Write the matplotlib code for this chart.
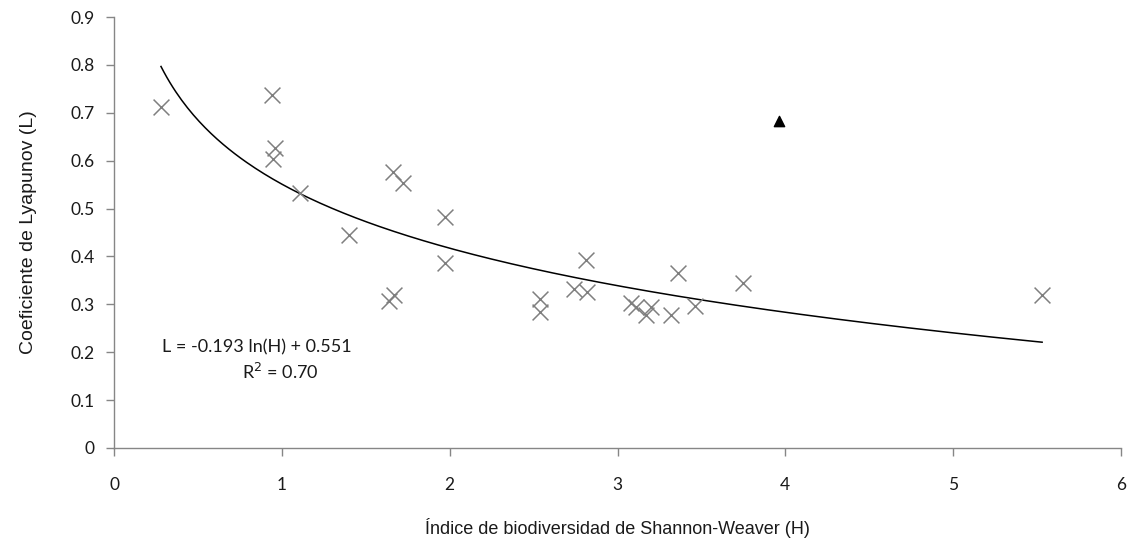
import numpy as np
import matplotlib
matplotlib.use('Agg')
import matplotlib.pyplot as plt

matplotlib.rcParams['font.family'] = ['Liberation Sans', 'DejaVu Sans']

# datos (Shannon-Weaver H, Lyapunov L)
h_vals = [0.28, 0.94, 0.96, 0.95, 1.11, 1.66, 1.72, 1.40, 1.97, 1.97, 1.64, 1.67,
          2.81, 2.54, 2.54, 2.74, 2.82, 3.08, 3.11, 3.17, 3.20, 3.32, 3.36, 3.46,
          3.75, 5.53]
l_vals = [0.713, 0.738, 0.626, 0.603, 0.532, 0.577, 0.553, 0.445, 0.483, 0.387,
          0.308, 0.319, 0.392, 0.312, 0.285, 0.331, 0.326, 0.302, 0.295, 0.278,
          0.294, 0.278, 0.366, 0.296, 0.344, 0.319]
outlier_h = [3.96]
outlier_l = [0.683]

coef_a = -0.193
coef_b = 0.551

fig = plt.figure(figsize=(11.36, 5.44), dpi=100)
ax = fig.add_axes([114 / 1136, 96 / 544, (1121 - 114) / 1136, (448 - 17) / 544])

ax.scatter(h_vals, l_vals, marker='x', s=130, color='#7f7f7f', linewidths=1.1, zorder=3)
ax.scatter(outlier_h, outlier_l, marker='^', s=55, color='black', zorder=3)

xs = np.linspace(min(h_vals), max(h_vals), 300)
ax.plot(xs, coef_a * np.log(xs) + coef_b, color='black', lw=1.1, zorder=2)

ax.set_xlim(0, 6)
ax.set_ylim(0, 0.9)
ax.set_xticks(range(0, 7))
ax.set_yticks(np.arange(0, 0.91, 0.1))
ax.set_yticklabels(['0'] + [f'{v:.1f}' for v in np.arange(0.1, 0.91, 0.1)])

for s in ['top', 'right']:
    ax.spines[s].set_visible(False)
for s in ['left', 'bottom']:
    ax.spines[s].set_color('#868686')
    ax.spines[s].set_linewidth(1.0)
ax.tick_params(colors='#868686', labelcolor='#1a1a1a', length=6, width=1.0,
               labelsize=12.5, direction='out')
ax.tick_params(axis='y', pad=8)
ax.tick_params(axis='x', pad=15)
for lab in ax.get_xticklabels() + ax.get_yticklabels():
    lab.set_family(['Lato', 'DejaVu Sans'])

ax.set_xlabel('Índice de biodiversidad de Shannon-Weaver (H)', fontsize=13,
              color='#1a1a1a', labelpad=18)
ax.set_ylabel('Coeficiente de Lyapunov (L)', fontsize=14, color='#1a1a1a', labelpad=24)

ax.text(0.85, 0.211, 'L = -0.193 ln(H) + 0.551', fontsize=13, ha='center', va='center',
        family=['Lato', 'DejaVu Sans'], color='#1a1a1a')
ax.text(0.99, 0.159, 'R$^2$ = 0.70', fontsize=13, ha='center', va='center',
        family=['Lato', 'DejaVu Sans'], color='#1a1a1a')

fig.savefig('out.png', dpi=100)
